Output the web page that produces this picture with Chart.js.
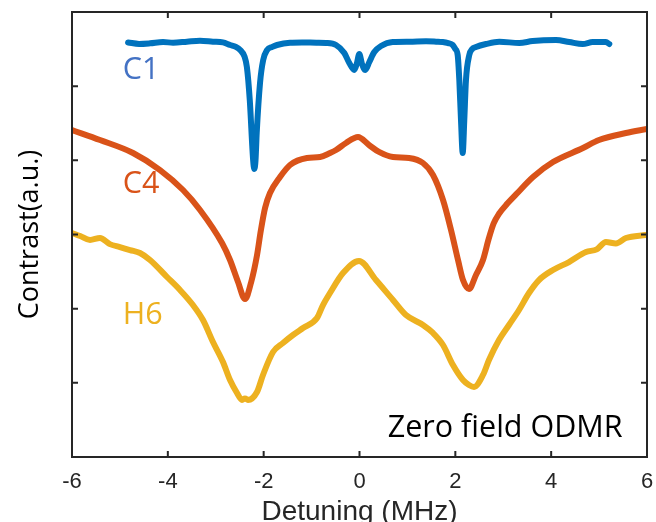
<!DOCTYPE html>
<html>
<head>
<meta charset="utf-8">
<script src="https://cdn.jsdelivr.net/npm/chart.js@4.4.1/dist/chart.umd.min.js"></script>
<style>
  html, body { margin: 0; padding: 0; overflow: hidden; background: #fff; }
  #odmr { display: block; }
</style>
</head>
<body>
<canvas id="odmr" width="656" height="540"></canvas>
<script>
// detuning (MHz) and contrast (a.u.)
const c1X = [-4.83, -4.6, -4.37, -4.1, -3.89, -3.6, -3.33, -3.06, -2.85, -2.70, -2.58, -2.49, -2.40, -2.35, -2.29, -2.22, -2.195, -2.17, -2.145, -2.076, -2.01, -1.93, -1.82, -1.72, -1.45, -1.2, -0.9, -0.70, -0.49, -0.317, -0.213, -0.109, -0.058, -0.004, 0.052, 0.121, 0.205, 0.309, 0.449, 0.693, 1.039, 1.388, 1.60, 1.736, 1.85, 1.945, 2.0, 2.049, 2.083, 2.118, 2.154, 2.187, 2.222, 2.291, 2.35, 2.431, 2.640, 2.917, 3.335, 3.614, 4.1, 4.378, 4.658, 4.866, 5.144, 5.213];
const c1Y = [5.59, 5.57, 5.578, 5.595, 5.586, 5.60, 5.613, 5.60, 5.59, 5.555, 5.53, 5.487, 5.40, 5.258, 4.813, 4.004, 3.883, 4.0, 4.37, 5.043, 5.353, 5.487, 5.53, 5.555, 5.586, 5.59, 5.585, 5.582, 5.555, 5.447, 5.312, 5.218, 5.30, 5.433, 5.30, 5.218, 5.326, 5.460, 5.541, 5.595, 5.599, 5.605, 5.60, 5.595, 5.58, 5.555, 5.50, 5.420, 5.083, 4.544, 4.099, 4.544, 5.083, 5.420, 5.50, 5.528, 5.568, 5.599, 5.582, 5.609, 5.622, 5.595, 5.568, 5.595, 5.595, 5.568];

const c4X = [-6.0, -5.415, -4.726, -4.163, -3.683, -3.328, -2.869, -2.702, -2.535, -2.389, -2.26, -2.139, -2.06, -1.97, -1.868, -1.659, -1.450, -1.096, -0.824, -0.616, -0.490, -0.282, -0.031, 0.198, 0.407, 0.699, 1.033, 1.325, 1.534, 1.743, 1.910, 2.056, 2.160, 2.285, 2.431, 2.577, 2.70, 2.80, 2.911, 3.09, 3.266, 3.621, 4.038, 4.664, 4.998, 5.561, 6.0];
const c4Y = [4.409, 4.274, 4.099, 3.869, 3.600, 3.331, 2.885, 2.656, 2.359, 2.130, 2.36, 2.72, 3.05, 3.36, 3.559, 3.775, 3.937, 4.031, 4.045, 4.099, 4.139, 4.234, 4.314, 4.207, 4.113, 4.045, 4.031, 3.964, 3.802, 3.465, 3.061, 2.656, 2.386, 2.265, 2.454, 2.656, 2.95, 3.15, 3.28, 3.42, 3.54, 3.775, 3.977, 4.166, 4.274, 4.368, 4.422];

const h6X = [-6.0, -5.83, -5.624, -5.415, -5.21, -5.0, -4.79, -4.581, -4.372, -4.017, -3.746, -3.475, -3.266, -3.058, -2.849, -2.702, -2.556, -2.452, -2.39, -2.327, -2.139, -2.014, -1.805, -1.597, -1.388, -1.179, -0.887, -0.762, -0.616, -0.344, -0.010, 0.344, 0.699, 0.970, 1.325, 1.534, 1.743, 1.951, 2.160, 2.285, 2.390, 2.577, 2.702, 2.911, 3.120, 3.329, 3.537, 3.746, 4.038, 4.372, 4.727, 4.95, 5.144, 5.35, 5.561, 5.978];
const h6Y = [3.020, 2.98, 2.926, 2.953, 2.87, 2.831, 2.79, 2.750, 2.656, 2.427, 2.252, 2.049, 1.847, 1.551, 1.281, 1.038, 0.863, 0.769, 0.79, 0.769, 0.876, 1.106, 1.416, 1.537, 1.645, 1.739, 1.874, 2.049, 2.211, 2.481, 2.643, 2.386, 2.117, 1.914, 1.780, 1.672, 1.510, 1.240, 1.038, 0.971, 0.944, 1.106, 1.308, 1.577, 1.780, 1.982, 2.211, 2.386, 2.521, 2.629, 2.764, 2.80, 2.899, 2.88, 2.953, 2.993];

const xTicks = [-6, -4, -2, 0, 2, 4, 6];
const yTicks = [0, 1, 2, 3, 4, 5, 6];

const labels = [
  { text: 'C1', x: -4.94, y: 5.10, color: '#4472C4' },
  { text: 'C4', x: -4.94, y: 3.56, color: '#D95319' },
  { text: 'H6', x: -4.94, y: 1.80, color: '#EDB120' },
  { text: 'Zero field ODMR', x: 0.59, y: 0.27, color: '#000000' }
];

function pts(xs, ys) {
  return xs.map((x, i) => ({ x: x, y: ys[i] }));
}

const frame = {
  id: 'frame',
  afterDatasetsDraw(chart) {
    const ctx = chart.ctx;
    const a = chart.chartArea;
    const xs = chart.scales.x, ys = chart.scales.y;
    ctx.save();
    ctx.strokeStyle = '#262626';
    ctx.lineWidth = 2;
    ctx.strokeRect(a.left, a.top, a.right - a.left, a.bottom - a.top);
    ctx.beginPath();
    xTicks.forEach(v => {
      const p = xs.getPixelForValue(v);
      ctx.moveTo(p, a.bottom); ctx.lineTo(p, a.bottom - 6);
      ctx.moveTo(p, a.top); ctx.lineTo(p, a.top + 6);
    });
    yTicks.forEach(v => {
      const p = ys.getPixelForValue(v);
      ctx.moveTo(a.left, p); ctx.lineTo(a.left + 6, p);
      ctx.moveTo(a.right, p); ctx.lineTo(a.right - 6, p);
    });
    ctx.stroke();

    ctx.font = '30.5px "Open Sans"';
    ctx.textBaseline = 'alphabetic';
    ctx.textAlign = 'left';
    labels.forEach(l => {
      ctx.fillStyle = l.color;
      ctx.fillText(l.text, xs.getPixelForValue(l.x), ys.getPixelForValue(l.y));
    });
    ctx.restore();
  }
};

const line = (label, data, color) => ({
  label: label,
  data: data,
  borderColor: color,
  backgroundColor: color,
  borderWidth: 6,
  pointRadius: 0,
  cubicInterpolationMode: 'monotone',
  borderJoinStyle: 'round',
  borderCapStyle: 'round',
  fill: false
});

const config = {
  type: 'line',
  data: {
    datasets: [
      line('C1', pts(c1X, c1Y), '#0072BD'),
      line('C4', pts(c4X, c4Y), '#D95319'),
      line('H6', pts(h6X, h6Y), '#EDB120')
    ]
  },
  options: {
    responsive: false,
    animation: false,
    devicePixelRatio: 1,
    layout: { padding: { top: 12, right: 9, left: 0, bottom: 0 } },
    plugins: { legend: { display: false }, tooltip: { enabled: false } },
    scales: {
      x: {
        type: 'linear',
        min: -6, max: 6,
        afterBuildTicks: (s) => { s.ticks = xTicks.map(v => ({ value: v })); },
        afterFit: (s) => { s.height = 83; s.paddingLeft = 0; s.paddingRight = 0; },
        grid: { display: false, drawTicks: false },
        border: { display: false },
        ticks: {
          color: '#262626',
          padding: 12,
          maxRotation: 0,
          font: { family: '"Liberation Sans", Arial', size: 22 }
        },
        title: {
          display: true,
          text: 'Detuning (MHz)',
          color: '#262626',
          padding: { top: 0, bottom: 11 },
          font: { family: '"Liberation Sans", Arial', size: 28 }
        }
      },
      y: {
        type: 'linear',
        min: 0, max: 6,
        afterBuildTicks: (s) => { s.ticks = yTicks.map(v => ({ value: v })); },
        afterFit: (s) => { s.width = 72; s.paddingTop = 0; s.paddingBottom = 0; },
        grid: { display: false, drawTicks: false },
        border: { display: false },
        ticks: { display: false },
        title: {
          display: true,
          text: 'Contrast(a.u.)',
          color: '#000000',
          padding: { top: 14, bottom: 0 },
          font: { family: '"Open Sans"', size: 27 }
        }
      }
    }
  },
  plugins: [frame]
};

const canvas = document.getElementById('odmr');
if (canvas) {
  new Chart(canvas.getContext('2d'), config);
} else {
  console.error('no canvas');
}
</script>
</body>
</html>
